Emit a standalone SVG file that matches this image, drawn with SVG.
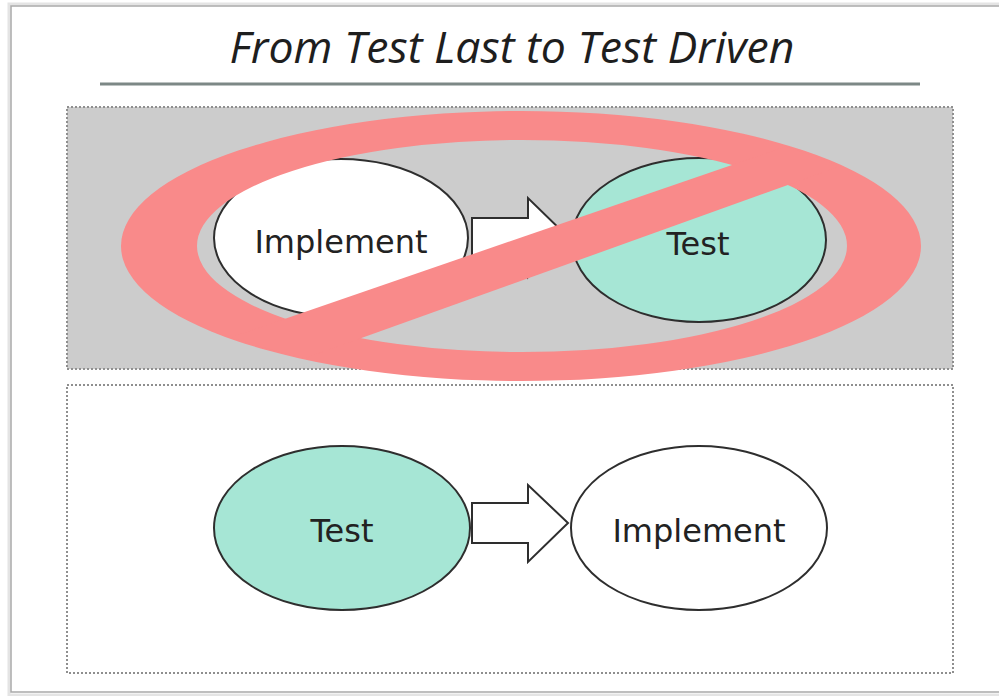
<svg xmlns="http://www.w3.org/2000/svg" width="999" height="696" viewBox="0 0 999 696">
  <style>
    .panel { stroke: #8f8f8f; stroke-width: 2; stroke-dasharray: 2 2; }
    .node { stroke: #2e2e2e; stroke-width: 2; }
    .teal { fill: #a6e6d5; }
    .plain { fill: #ffffff; }
    .label { font-family: "DejaVu Sans", Verdana, sans-serif; font-size: 32px; fill: #222; text-anchor: middle; }
    .arrow { fill: #ffffff; stroke: #2e2e2e; stroke-width: 2; stroke-linejoin: miter; }
    .ban { fill: #f98a8a; }
  </style>
  <defs>
    <clipPath id="banClip">
      <ellipse cx="521" cy="246" rx="398" ry="133"/>
    </clipPath>
  </defs>

  <!-- page -->
  <rect x="0" y="0" width="999" height="696" fill="#ffffff"/>
  <rect x="9" y="4" width="1000" height="691" fill="none" stroke="#e4e4e4" stroke-width="3"/>
  <rect x="11" y="6" width="1000" height="686" fill="#ffffff" stroke="#a9a9a9" stroke-width="1.5"/>

  <!-- heading -->
  <g id="title">
    <text x="512" y="63" font-family="'Open Sans', 'DejaVu Sans', sans-serif" font-style="italic" font-size="43" fill="#1e1e1e" text-anchor="middle" textLength="565" lengthAdjust="spacingAndGlyphs">From Test Last to Test Driven</text>
    <line x1="100" y1="84" x2="920" y2="84" stroke="#7d8886" stroke-width="3"/>
  </g>

  <!-- panels -->
  <g id="panel-test-last">
    <rect class="panel" x="67" y="107" width="886" height="262" fill="#cccccc"/>
  </g>
  <g id="panel-test-driven">
    <rect class="panel" x="67" y="385" width="886" height="288" fill="none"/>
  </g>

  <!-- test last: implement, then test -->
  <g id="node-implement-1">
    <ellipse class="node plain" cx="341" cy="238" rx="127" ry="79"/>
    <text class="label" x="341" y="253">Implement</text>
  </g>
  <g id="node-test-1">
    <ellipse class="node teal" cx="699" cy="240" rx="127" ry="82"/>
    <text class="label" x="698" y="255">Test</text>
  </g>

  <!-- test driven: test, then implement -->
  <g id="node-test-2">
    <ellipse class="node teal" cx="342" cy="528" rx="128" ry="82"/>
    <text class="label" x="342" y="542">Test</text>
  </g>
  <g id="node-implement-2">
    <ellipse class="node plain" cx="699" cy="528" rx="128" ry="82"/>
    <text class="label" x="699" y="542">Implement</text>
  </g>

  <!-- connectors -->
  <g id="connectors">
    <polygon class="arrow" points="472,218 528,218 528,198 568,237 528,277 528,258 472,258"/>
    <polygon class="arrow" points="472,503 528,503 528,485 568,523 528,562 528,543 472,543"/>
  </g>

  <!-- prohibition sign over the test-last panel -->
  <g id="ban-sign">
    <path class="ban" fill-rule="evenodd" d="M121,246 A400,135 0 1,0 921,246 A400,135 0 1,0 121,246 Z M197,246 A325,106 0 1,0 847,246 A325,106 0 1,0 197,246 Z"/>
    <g clip-path="url(#banClip)">
      <polygon class="ban" points="200,348 880,114 880,152 200,396"/>
    </g>
  </g>
</svg>
